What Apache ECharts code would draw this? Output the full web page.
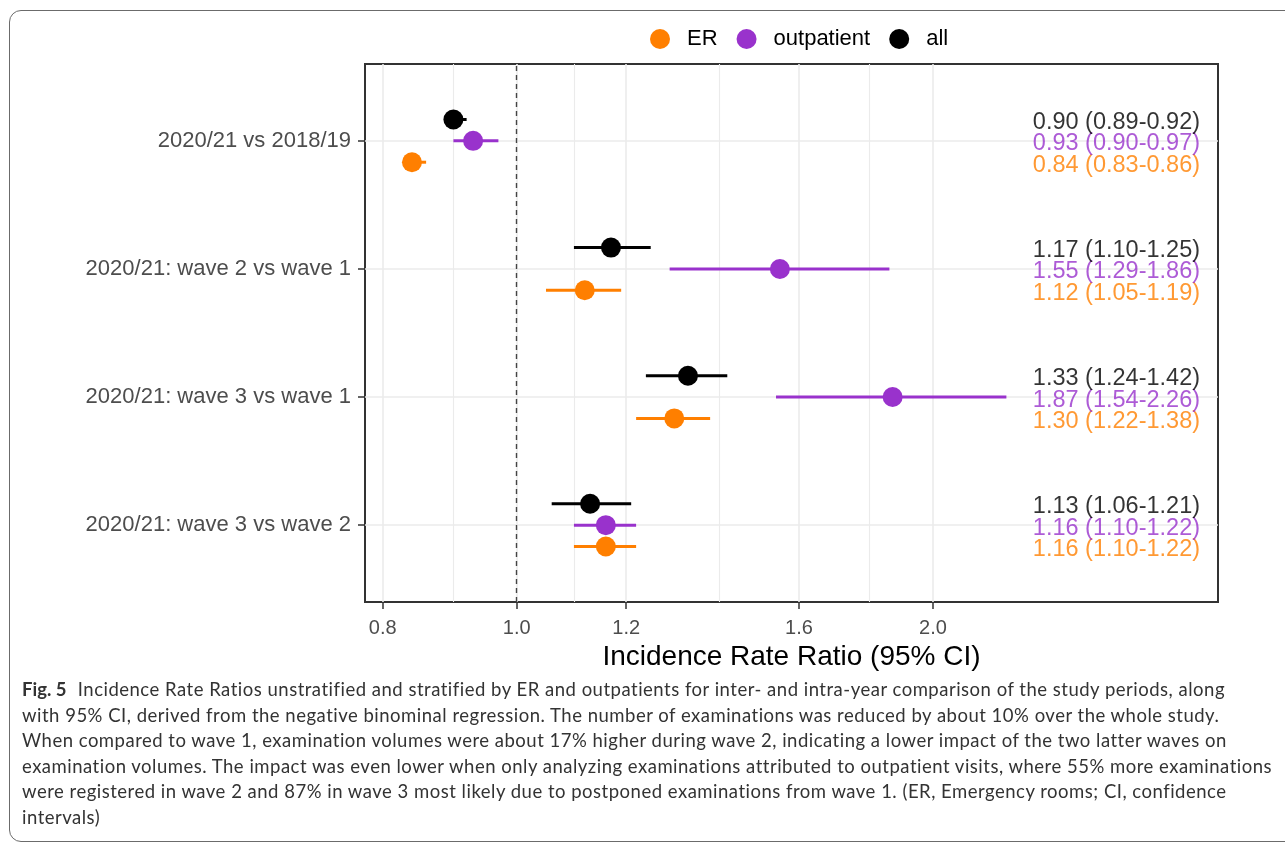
<!DOCTYPE html>
<html>
<head>
<meta charset="utf-8">
<script src="https://cdn.jsdelivr.net/npm/echarts@6/dist/echarts.min.js"></script>
<style>
  html, body { margin: 0; padding: 0; background: #fff; }
  .frame {
    position: absolute; left: 9px; top: 10px; width: 1300px; height: 832px;
    border: 1.5px solid #6b6b6b; border-radius: 12px; box-sizing: border-box;
  }
  #chart { position: absolute; left: 0; top: 0; width: 1285px; height: 843px; z-index: 1; }
  .caption {
    position: absolute; left: 22px; top: 677px; z-index: 2;
    font-family: Lato, "Open Sans", sans-serif; font-size: 18.5px; line-height: 25.6px;
    letter-spacing: 0.5px; color: #333; white-space: nowrap;
  }
  .caption b { font-weight: 700; margin-right: 6px; letter-spacing: 0; }
</style>
</head>
<body>
<div class="frame"></div>
<div id="chart"></div>
<div class="caption">
  <b>Fig. 5</b> Incidence Rate Ratios unstratified and stratified by ER and outpatients for inter- and intra-year comparison of the study periods, along<br>
  with 95% CI, derived from the negative binominal regression. The number of examinations was reduced by about 10% over the whole study.<br>
  When compared to wave 1, examination volumes were about 17% higher during wave 2, indicating a lower impact of the two latter waves on<br>
  examination volumes. The impact was even lower when only analyzing examinations attributed to outpatient visits, where 55% more examinations<br>
  were registered in wave 2 and 87% in wave 3 most likely due to postponed examinations from wave 1. (ER, Emergency rooms; CI, confidence<br>
  intervals)
</div>
<script>
  // comparisons, top to bottom
  const categories = ['2020/21 vs 2018/19', '2020/21: wave 2 vs wave 1', '2020/21: wave 3 vs wave 1', '2020/21: wave 3 vs wave 2']
  const groups = ['ER', 'outpatient', 'all']

  // incidence rate ratios and 95% CI
  const erEst = [0.84, 1.12, 1.30, 1.16]
  const erLo = [0.83, 1.05, 1.22, 1.10]
  const erHi = [0.86, 1.19, 1.38, 1.22]
  const outEst = [0.93, 1.55, 1.87, 1.16]
  const outLo = [0.90, 1.29, 1.54, 1.10]
  const outHi = [0.97, 1.86, 2.26, 1.22]
  const allEst = [0.90, 1.17, 1.33, 1.13]
  const allLo = [0.89, 1.10, 1.24, 1.06]
  const allHi = [0.92, 1.25, 1.42, 1.21]

  // x axis ticks (log scale)
  const xTicks = [0.8, 1.0, 1.2, 1.6, 2.0]
  const xMinor = [0.9, 1.1, 1.4, 1.8]

  const colors = {ER: '#FF7F00', outpatient: '#9932CC', all: '#000000'}
  const dodge = {ER: -1 / 6, outpatient: 0, all: 1 / 6}
  const textX = 3.12
  const xMin = 0.7768
  const xMax = 3.2146
  const font = '"Liberation Sans", Arial, sans-serif'

  const est = {ER: erEst, outpatient: outEst, all: allEst}
  const lo = {ER: erLo, outpatient: outLo, all: allLo}
  const hi = {ER: erHi, outpatient: outHi, all: allHi}
  const yPos = i => categories.length - i

  let chart = echarts.init(document.getElementById('chart'))

  let series = []
  groups.forEach(g => {
    //误差线
    series.push({
      name: g + ' CI',
      type: 'custom',
      z: 3,
      silent: true,
      encode: {x: [0, 1], y: 2},
      data: est[g].map((v, i) => [lo[g][i], hi[g][i], yPos(i) + dodge[g]]),
      renderItem: (params, api) => {
        let a = api.coord([api.value(0), api.value(2)])
        let b = api.coord([api.value(1), api.value(2)])
        return {
          type: 'line',
          shape: {x1: a[0], y1: a[1], x2: b[0], y2: b[1]},
          style: {stroke: colors[g], lineWidth: 3}
        }
      }
    })
    //点
    series.push({
      name: g,
      type: 'scatter',
      z: 4,
      symbol: 'circle',
      symbolSize: 20,
      itemStyle: {color: colors[g], opacity: 1},
      data: est[g].map((v, i) => [v, yPos(i) + dodge[g]])
    })
    //右侧文字
    series.push({
      name: g + ' text',
      type: 'scatter',
      z: 5,
      silent: true,
      symbolSize: 0,
      data: est[g].map((v, i) => [textX, yPos(i) + dodge[g]]),
      label: {
        show: true,
        position: 'left',
        distance: 0,
        offset: [0, 3],
        color: colors[g],
        fontFamily: font,
        fontSize: 23.5,
        formatter: p => {
          let i = p.dataIndex
          return est[g][i].toFixed(2) + ' (' + lo[g][i].toFixed(2) + '-' + hi[g][i].toFixed(2) + ')'
        }
      }
    })
  })

  // reference line at 1
  series.push({
    name: 'ref line',
    type: 'scatter',
    z: 2,
    silent: true,
    data: [],
    markLine: {
      silent: true,
      symbol: 'none',
      label: {show: false},
      animation: false,
      lineStyle: {color: '#444', width: 1.4, type: [5, 4]},
      data: [{xAxis: 1.0}]
    }
  })

  let option = {
    animation: false,
    textStyle: {fontFamily: font},
    legend: {
      left: 645,
      top: 23,
      itemWidth: 44,
      itemHeight: 20,
      itemGap: 19,
      textStyle: {fontSize: 22, color: '#000', fontFamily: font},
      data: groups.map(g => ({name: g, icon: 'circle', itemStyle: {color: colors[g]}}))
    },
    grid: {
      left: 365, right: 67, top: 64, bottom: 241,
      show: true, borderColor: '#333', borderWidth: 2, backgroundColor: 'transparent'
    },
    xAxis: [
      {
        type: 'log',
        logBase: 10,
        min: xMin,
        max: xMax,
        name: 'Incidence Rate Ratio (95% CI)',
        nameLocation: 'middle',
        nameGap: 40,
        nameTextStyle: {fontSize: 28, color: '#000', fontFamily: font},
        axisLine: {show: false},
        axisTick: {show: true, length: 7, customValues: xTicks, lineStyle: {color: '#333', width: 1.5}},
        axisLabel: {
          customValues: xTicks, margin: 16, fontSize: 20, color: '#4D4D4D', fontFamily: font,
          formatter: v => Number(v).toFixed(1)
        },
        splitLine: {show: true, lineStyle: {color: '#EBEBEB', width: 1.6}},
        z: 1
      },
      {
        // minor grid lines only
        type: 'log',
        logBase: 10,
        min: xMin,
        max: xMax,
        position: 'bottom',
        axisLine: {show: false},
        axisTick: {show: false, customValues: xMinor},
        axisLabel: {show: false, customValues: xMinor},
        splitLine: {show: true, lineStyle: {color: '#EBEBEB', width: 1.1}},
        z: 0
      }
    ],
    yAxis: {
      type: 'value',
      min: 0.4,
      max: 4.6,
      axisLine: {show: false},
      axisTick: {show: true, length: 7, customValues: [1, 2, 3, 4], lineStyle: {color: '#333', width: 1.5}},
      axisLabel: {
        customValues: [1, 2, 3, 4], margin: 14, fontSize: 22, color: '#4D4D4D', fontFamily: font,
        formatter: v => categories[categories.length - Math.round(v)]
      },
      splitLine: {show: true, lineStyle: {color: '#EBEBEB', width: 1.6}}
    },
    series: series
  }

  chart.setOption(option)
</script>
</body>
</html>
